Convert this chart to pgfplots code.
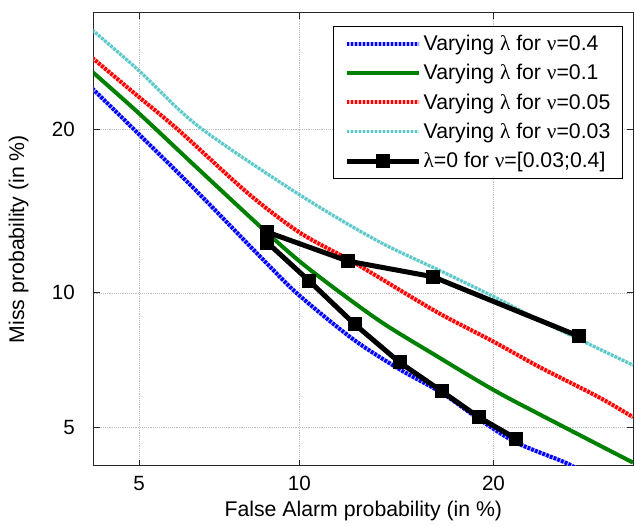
\documentclass[border=0pt]{standalone}
\usepackage{fontspec}
\setmainfont{Liberation Sans}
\newfontfamily\grk{Liberation Serif}
\usepackage{pgfplots}
\pgfplotsset{compat=1.18}

\definecolor{mblue}{HTML}{0000FF}
\definecolor{mgreen}{HTML}{008000}
\definecolor{mred}{HTML}{FF0000}
\definecolor{mcyan}{HTML}{5CC8C8}

% normal deviate (probit) of a percentage, Abramowitz-Stegun 26.2.23, p<0.5
\newcommand\probit[1]{%
  \begingroup
  \pgfmathparse{sqrt(-2*ln(#1/100))}%
  \let\pbt\pgfmathresult
  \pgfmathparse{-(\pbt-(2.515517+0.802853*\pbt+0.010328*\pbt*\pbt)/(1+1.432788*\pbt+0.189269*\pbt*\pbt+0.001308*\pbt*\pbt*\pbt))}%
  \pgfmathsmuggle\pgfmathresult
  \endgroup}

\pgfplotsset{
  dotline/.style={#1, line width=3bp, dash pattern=on 2bp off 1bp,
    preaction={draw=#1!30, solid}},
  legend image code/.code={\draw[#1] (0bp,0bp) -- (54bp,0bp);},
  markleg/.style={legend image code/.code={\draw[mark repeat=2, mark phase=2, ##1]
    plot coordinates {(0bp,0bp) (27bp,0bp) (54bp,0bp)};}},
}

\begin{document}
\begin{tikzpicture}
\begin{axis}[
    scale only axis,
    width=404.5bp, height=339.75bp,
    x coord trafo/.code={\probit{#1}},
    y coord trafo/.code={\probit{#1}},
    xmin=4, xmax=30, ymin=4, ymax=30,
    xtick={5,10,20}, xticklabels={5,10,20},
    ytick={5,10,20}, yticklabels={5,10,20},
    tick align=inside,
    major tick length=4.5bp,
    tick style={black!85, line width=0.6bp},
    axis line style={black!85, line width=0.75bp},
    grid=major,
    major grid style={densely dotted, black!25, line width=0.5bp},
    tick label style={font=\fontsize{15.5}{18}\selectfont, inner sep=0pt},
    xticklabel style={yshift=-7.5bp},
    yticklabel style={xshift=-14bp},
    /pgf/number format/assume math mode=true,
    xlabel={False Alarm probability (in \%)},
    ylabel={Miss probability (in \%)},
    every axis x label/.style={at={(axis description cs:0.5,0)}, anchor=center,
      yshift=-34bp, font=\fontsize{16}{19}\selectfont},
    every axis y label/.style={at={(axis description cs:-0.1394,0.5)}, anchor=center,
      rotate=90, font=\fontsize{16}{19}\selectfont},
    legend cell align=left,
    legend style={at={(0.981,0.971)}, anchor=north east, draw=black, line width=0.6bp,
      font=\fontsize{16}{19}\selectfont, inner xsep=8bp, inner ysep=5.5bp,
      row sep=7bp, column sep=1bp, nodes={inner sep=1bp}},
    every axis plot/.append style={smooth, tension=0.5},
]
\addplot[dotline=mblue] coordinates {
  (4.0,23.3) (5.0,19.7) (6.55,15.6) (8.83,11.4) (10.0,9.9) (12.3,8.0)
  (14.6,6.85) (16.9,6.05) (19.1,5.25) (21.5,4.6) (24.9,4.1) (26.0,3.9)};
\addlegendentry{Varying {\grk λ} for {\grk ν}=0.4}
\addplot[mgreen, line width=3bp] coordinates {
  (4.0,24.7) (5.0,21.3) (6.55,17.2) (8.83,13.1) (10.4,11.2) (13.5,8.8)
  (16.7,7.3) (20.0,6.15) (23.0,5.4) (30.0,4.1)};
\addlegendentry{Varying {\grk λ} for {\grk ν}=0.1}
\addplot[dotline=mred] coordinates {
  (4.0,25.9) (5.0,22.6) (6.0,20.0) (8.1,15.6) (10.0,13.2) (12.1,11.7)
  (13.5,10.8) (16.7,9.1) (20.0,7.9) (23.0,6.95) (27.4,5.9) (30.0,5.3)};
\addlegendentry{Varying {\grk λ} for {\grk ν}=0.05}
\addplot[dotline=mcyan, line width=2.4bp] coordinates {
  (4.0,28.4) (5.0,24.8) (6.55,20.3) (10.0,15.5) (13.5,12.7) (17.3,10.9)
  (20.0,9.85) (23.0,8.8) (27.4,7.6) (30.0,7.0)};
\addlegendentry{Varying {\grk λ} for {\grk ν}=0.03}
\addplot[black, line width=3.75bp, sharp plot, mark=square*, mark size=4.5bp,
  mark options={solid, fill=black, line width=1.5bp}, markleg] coordinates {
  (25.9,8.1) (16.4,10.8) (12.1,11.6) (8.8,13.2) (8.8,12.6) (10.4,10.6)
  (12.4,8.6) (14.6,7.1) (16.9,6.1) (19.1,5.3) (21.5,4.7)};
\addlegendentry{{\grk λ}=0 for {\grk ν}=[0.03;0.4]}
\end{axis}
\path ([xshift=-70.3bp, yshift=-43bp]current axis.south west)
  rectangle ([xshift=1.5bp, yshift=9.5bp]current axis.north east);
\end{tikzpicture}
\end{document}
